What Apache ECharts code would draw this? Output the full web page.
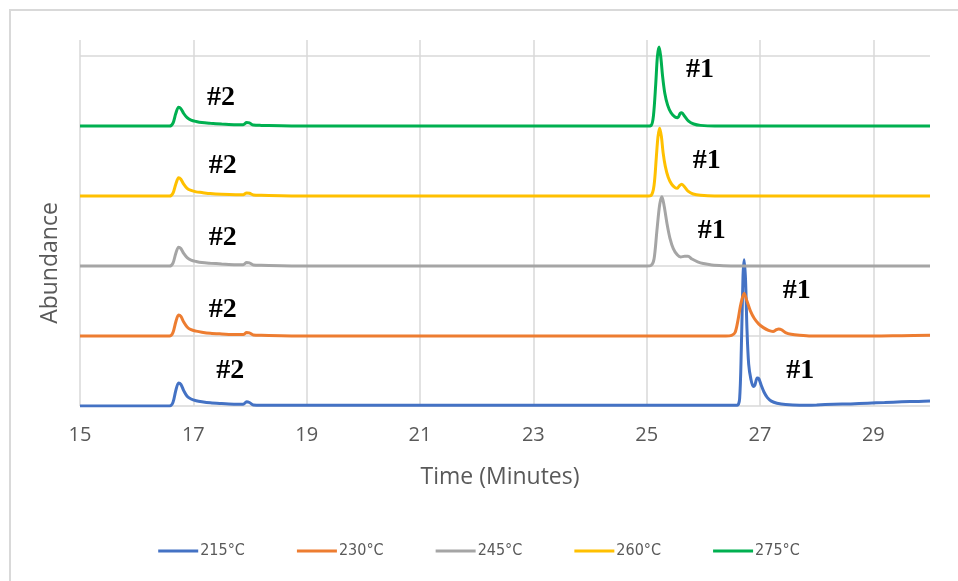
<!DOCTYPE html>
<html>
<head>
<meta charset="utf-8">
<script src="https://cdn.jsdelivr.net/npm/echarts@6/dist/echarts.min.js"></script>
<style>
  html, body { margin: 0; padding: 0; background: #ffffff; }
  #chart { width: 958px; height: 581px; }
</style>
</head>
<body>
<div id="chart"></div>
<script>
// Stacked chromatogram traces: each trace sits on its own baseline (0..4).
const xTicks = [15, 17, 19, 21, 23, 25, 27, 29];
const yTicks = [0, 1, 2, 3, 4, 5];
const seriesNames = ['215°C', '230°C', '245°C', '260°C', '275°C'];
const seriesColors = ['#4472C4', '#ED7D31', '#A5A5A5', '#FFC000', '#00B050'];

const time215 = [15, 16, 16.58, 16.64, 16.69, 16.74, 16.78, 16.83, 16.89, 16.96, 17.05, 17.15, 17.3, 17.5, 17.75, 17.88, 17.94, 17.99, 18.06, 18.2,
  19, 20, 21, 22, 23, 24, 25, 26,
  26.5, 26.6, 26.64, 26.67, 26.7, 26.72, 26.745, 26.77, 26.8, 26.84, 26.88, 26.91, 26.95, 26.98, 27.02, 27.07, 27.13, 27.2, 27.3, 27.45, 27.7,
  28.0, 28.3, 28.6, 28.9, 29.2, 29.5, 29.8, 30];
const abund215 = [0, 0, 0, 0.05, 0.22, 0.33, 0.31, 0.22, 0.14, 0.1, 0.075, 0.06, 0.045, 0.035, 0.025, 0.025, 0.06, 0.05, 0.015, 0.01,
  0.01, 0.01, 0.01, 0.01, 0.01, 0.01, 0.01, 0.01,
  0.01, 0.01, 0.1, 0.8, 1.85, 2.09, 1.8, 1.1, 0.6, 0.38, 0.28, 0.3, 0.4, 0.39, 0.3, 0.2, 0.12, 0.07, 0.04, 0.02, 0.01,
  0.015, 0.025, 0.03, 0.04, 0.05, 0.06, 0.065, 0.07];

const time230 = [15, 16, 16.58, 16.64, 16.69, 16.74, 16.78, 16.83, 16.89, 16.96, 17.05, 17.15, 17.3, 17.5, 17.75, 17.88, 17.94, 17.99, 18.06, 18.2,
  19, 20, 21, 22, 23, 24, 25, 26,
  26.4, 26.5, 26.56, 26.61, 26.66, 26.72, 26.77, 26.83, 26.9, 26.98, 27.06, 27.15, 27.23, 27.29, 27.33, 27.38, 27.45, 27.55, 27.7, 27.9,
  28.5, 29, 29.5, 30];
const abund230 = [1, 1, 1, 1.05, 1.2, 1.3, 1.28, 1.2, 1.13, 1.09, 1.07, 1.055, 1.04, 1.03, 1.02, 1.02, 1.05, 1.045, 1.015, 1.01,
  1, 1, 1, 1, 1, 1, 1, 1,
  1.0, 1.01, 1.05, 1.22, 1.45, 1.61, 1.5, 1.36, 1.25, 1.17, 1.12, 1.08, 1.065, 1.09, 1.1, 1.09, 1.05, 1.025, 1.01, 1.0,
  1.0, 1.0, 1.005, 1.01];

const time245 = [15, 16, 16.58, 16.64, 16.69, 16.74, 16.78, 16.83, 16.89, 16.96, 17.05, 17.15, 17.3, 17.5, 17.75, 17.88, 17.94, 17.99, 18.06, 18.2,
  19, 20, 21, 22, 23, 24, 25,
  25.08, 25.13, 25.18, 25.23, 25.27, 25.31, 25.36, 25.41, 25.47, 25.54, 25.6, 25.67, 25.73, 25.8, 25.9, 26.0, 26.15, 26.35, 26.6,
  27, 28, 29, 30];
const abund245 = [2, 2, 2, 2.04, 2.18, 2.27, 2.25, 2.18, 2.12, 2.085, 2.065, 2.05, 2.04, 2.03, 2.02, 2.02, 2.05, 2.045, 2.015, 2.01,
  2, 2, 2, 2, 2, 2, 2,
  2.01, 2.1, 2.5, 2.88, 2.99, 2.85, 2.6, 2.4, 2.25, 2.16, 2.13, 2.14, 2.14, 2.1, 2.06, 2.035, 2.015, 2.005, 2.0,
  2, 2, 2, 2];

const time260 = [15, 16, 16.58, 16.64, 16.69, 16.74, 16.78, 16.83, 16.89, 16.96, 17.05, 17.15, 17.3, 17.5, 17.75, 17.88, 17.94, 17.99, 18.06, 18.2,
  19, 20, 21, 22, 23, 24, 25,
  25.08, 25.13, 25.17, 25.2, 25.23, 25.26, 25.29, 25.33, 25.38, 25.44, 25.5, 25.54, 25.58, 25.62, 25.67, 25.73, 25.82, 25.95, 26.2,
  27, 28, 29, 30];
const abund260 = [3, 3, 3, 3.04, 3.17, 3.26, 3.24, 3.17, 3.11, 3.08, 3.06, 3.05, 3.035, 3.025, 3.02, 3.02, 3.045, 3.04, 3.015, 3.01,
  3, 3, 3, 3, 3, 3, 3,
  3.01, 3.15, 3.55, 3.85, 3.97, 3.85, 3.62, 3.42, 3.27, 3.17, 3.12, 3.11, 3.15, 3.17, 3.13, 3.07, 3.03, 3.01, 3.0,
  3, 3, 3, 3];

const time275 = [15, 16, 16.58, 16.64, 16.69, 16.74, 16.78, 16.83, 16.89, 16.96, 17.05, 17.15, 17.3, 17.5, 17.75, 17.88, 17.94, 17.99, 18.06, 18.2,
  19, 20, 21, 22, 23, 24, 25,
  25.08, 25.12, 25.16, 25.19, 25.22, 25.25, 25.28, 25.32, 25.37, 25.43, 25.5, 25.55, 25.59, 25.62, 25.67, 25.74, 25.83, 25.95, 26.2,
  27, 28, 29, 30];
const abund275 = [4, 4, 4, 4.04, 4.18, 4.27, 4.25, 4.18, 4.12, 4.085, 4.065, 4.05, 4.04, 4.03, 4.02, 4.02, 4.05, 4.045, 4.015, 4.01,
  4, 4, 4, 4, 4, 4, 4,
  4.01, 4.15, 4.6, 5.0, 5.13, 4.98, 4.72, 4.47, 4.3, 4.19, 4.13, 4.12, 4.18, 4.19, 4.14, 4.07, 4.03, 4.01, 4.0,
  4, 4, 4, 4];

// Peak annotations "#2" (early peak) and "#1" (main peak), positioned in data space.
const peakTags = [
  [[17.65, 0.51, '#2'], [27.71, 0.51, '#1']],
  [[17.52, 1.37, '#2'], [27.65, 1.64, '#1']],
  [[17.52, 2.40, '#2'], [26.15, 2.51, '#1']],
  [[17.52, 3.44, '#2'], [26.06, 3.50, '#1']],
  [[17.49, 4.41, '#2'], [25.94, 4.80, '#1']]
];

const times = [time215, time230, time245, time260, time275];
const abunds = [abund215, abund230, abund245, abund260, abund275];

const chart = echarts.init(document.getElementById('chart'), null, { renderer: 'canvas' });

const series = seriesNames.map((name, i) => ({
  name: name,
  type: 'line',
  data: times[i].map((t, k) => [t, abunds[i][k]]),
  showSymbol: false,
  smooth: 0.3,
  lineStyle: { width: 3, color: seriesColors[i] },
  itemStyle: { color: seriesColors[i] },
  emphasis: { disabled: true },
  z: 2 + i,
  markPoint: {
    symbol: 'circle',
    symbolSize: 0,
    silent: true,
    label: {
      show: true,
      position: 'inside',
      formatter: p => p.name,
      fontFamily: "'Liberation Serif', 'DejaVu Serif', serif",
      fontWeight: 'bold',
      fontSize: 28,
      color: '#000000'
    },
    data: peakTags[i].map(p => ({ name: p[2], coord: [p[0], p[1]] }))
  }
}));

const titleFont = "'Open Sans', sans-serif";

chart.setOption({
  animation: false,
  backgroundColor: '#ffffff',
  graphic: [{
    type: 'rect',
    shape: { x: 10, y: 10, width: 1000, height: 1000 },
    style: { fill: 'none', stroke: '#d9d9d9', lineWidth: 2 },
    silent: true
  }, {
    type: 'text',
    x: 50,
    y: 263,
    rotation: Math.PI / 2,
    style: {
      text: 'Abundance',
      fontFamily: titleFont,
      fontSize: 23,
      fill: '#595959',
      align: 'center',
      verticalAlign: 'middle'
    },
    silent: true
  }],
  grid: { left: 80, right: 28, top: 40, bottom: 175 },
  xAxis: {
    type: 'value',
    min: 15,
    max: 30,
    name: 'Time (Minutes)',
    nameLocation: 'middle',
    nameGap: 60,
    nameTextStyle: { fontFamily: titleFont, fontSize: 23, color: '#595959', padding: [0, 10, 0, 0] },
    axisLine: { show: false },
    axisTick: { show: false, customValues: xTicks },
    axisLabel: {
      customValues: xTicks,
      margin: 19,
      fontFamily: titleFont,
      fontSize: 20,
      color: '#595959'
    },
    splitLine: { show: true, lineStyle: { color: '#d9d9d9', width: 1.5 } }
  },
  yAxis: {
    type: 'value',
    min: 0,
    max: 5.23,
    axisLine: { show: false },
    axisTick: { show: false, customValues: yTicks },
    axisLabel: { show: false, customValues: yTicks },
    splitLine: { show: true, lineStyle: { color: '#d9d9d9', width: 1.5 } }
  },
  legend: {
    data: seriesNames,
    left: 'center',
    top: 538,
    icon: 'rect',
    itemWidth: 40,
    itemHeight: 3,
    itemGap: 52,
    textStyle: {
      fontFamily: "'Liberation Sans Narrow', 'DejaVu Sans Condensed', sans-serif",
      fontSize: 16,
      color: '#595959',
      padding: [0, 0, 0, -3]
    }
  },
  series: series
});
</script>
</body>
</html>
